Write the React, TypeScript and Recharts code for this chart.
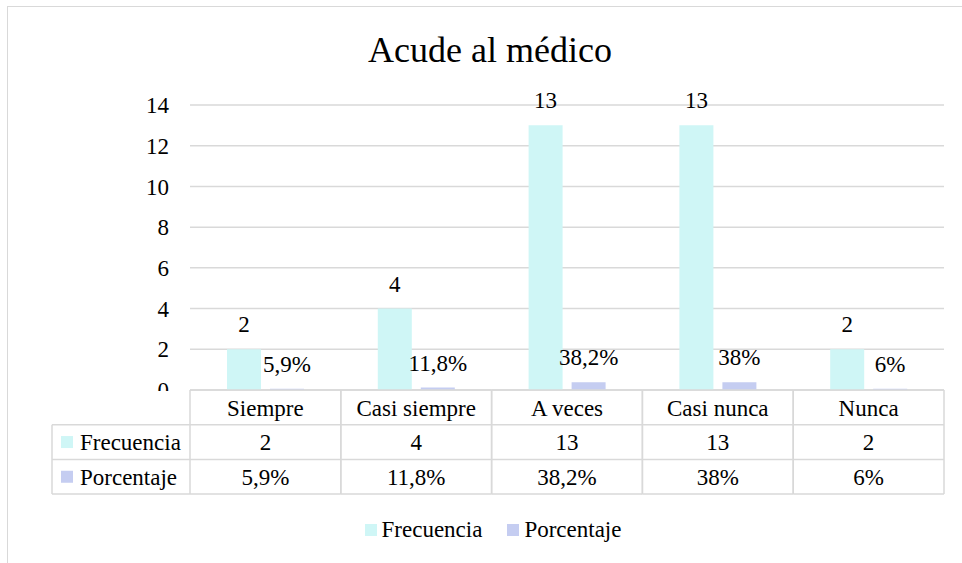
import React from 'react';
import { BarChart, Bar, XAxis, YAxis, CartesianGrid, LabelList, Legend } from 'recharts';

const categories = ['Siempre', 'Casi siempre', 'A veces', 'Casi nunca', 'Nunca'];
const frecuencia = [2, 4, 13, 13, 2];
const porcentaje = [0.059, 0.118, 0.382, 0.38, 0.06];
const frecuenciaLabels = ['2', '4', '13', '13', '2'];
const porcentajeLabels = ['5,9%', '11,8%', '38,2%', '38%', '6%'];
const yTicks = [0, 2, 4, 6, 8, 10, 12, 14];
const seriesNames = ['Frecuencia', 'Porcentaje'];
const seriesColors = ['#CFF6F6', '#C5CDF1'];
const title = 'Acude al médico';

const data = categories.map((c, i) => ({
  name: c,
  frecuencia: frecuencia[i],
  porcentaje: porcentaje[i],
  fLabel: frecuenciaLabels[i],
  pLabel: porcentajeLabels[i],
}));

const FONT = '"Liberation Serif", "Times New Roman", serif';
const W = 962;
const H = 563;
const MARGIN = { top: 105, right: 18, bottom: 0, left: 0 };
const Y_AXIS_W = 190;
const X_AXIS_H = 173;
const CELL_W = (W - MARGIN.right - MARGIN.left - Y_AXIS_W) / categories.length;
const ROW_H = 34.7;
const LABEL_COL_W = 138;
const LINE = '#D9D9D9';
const LW = 1.5;
const FS = 23;

const textStyle: React.CSSProperties = { fontFamily: FONT, fontSize: FS };

const TableTick = (props: any) => {
  const { x, y, payload, index } = props;
  const left = x - CELL_W / 2;
  const right = x + CELL_W / 2;
  const i = index as number;
  const rowCenter = (r: number) => y + ROW_H * r + ROW_H / 2;
  const els: React.ReactNode[] = [];
  for (let r = 0; r <= 3; r++) {
    els.push(<line key={'h' + r} x1={left} x2={right} y1={y + ROW_H * r} y2={y + ROW_H * r} stroke={LINE} strokeWidth={LW} />);
  }
  els.push(<line key="vl" x1={left} x2={left} y1={y} y2={y + ROW_H * 3} stroke={LINE} strokeWidth={LW} />);
  els.push(<line key="vr" x1={right} x2={right} y1={y} y2={y + ROW_H * 3} stroke={LINE} strokeWidth={LW} />);
  const tx = (k: string, ty: number, s: string) => (
    <text key={k} x={x} y={ty} dy="0.355em" textAnchor="middle" style={textStyle} fill="#000">{s}</text>
  );
  els.push(tx('c', rowCenter(0), payload.value));
  els.push(tx('f', rowCenter(1), frecuenciaLabels[i]));
  els.push(tx('p', rowCenter(2), porcentajeLabels[i]));
  if (i === 0) {
    const l0 = left - LABEL_COL_W;
    for (let r = 1; r <= 3; r++) {
      els.push(<line key={'lh' + r} x1={l0} x2={left} y1={y + ROW_H * r} y2={y + ROW_H * r} stroke={LINE} strokeWidth={LW} />);
    }
    els.push(<line key="lv" x1={l0} x2={l0} y1={y + ROW_H} y2={y + ROW_H * 3} stroke={LINE} strokeWidth={LW} />);
    seriesNames.forEach((n, k) => {
      const cy = rowCenter(k + 1);
      els.push(<rect key={'m' + k} x={l0 + 9} y={cy - 6} width={12} height={12} fill={seriesColors[k]} />);
      els.push(<text key={'t' + k} x={l0 + 28} y={cy} dy="0.355em" textAnchor="start" style={textStyle} fill="#000">{n}</text>);
    });
  }
  return <g>{els}</g>;
};

const YTick = (props: any) => {
  const { x, y, payload } = props;
  const clip = payload.value === 0;
  return (
    <g>
      {clip && (
        <defs>
          <clipPath id="zeroClip">
            <rect x={x - 60} y={y - 30} width={62} height={31} />
          </clipPath>
        </defs>
      )}
      <text x={x} y={y} dy="0.355em" textAnchor="end" style={textStyle} fill="#000" clipPath={clip ? 'url(#zeroClip)' : undefined}>
        {payload.value}
      </text>
    </g>
  );
};

const LegendContent = () => (
  <div style={{ display: 'flex', justifyContent: 'center', alignItems: 'center', paddingLeft: 24, height: 30, fontFamily: FONT, fontSize: FS, color: '#000' }}>
    {seriesNames.map((n, k) => (
      <div key={n} style={{ display: 'flex', alignItems: 'center', marginRight: k === 0 ? 25 : 0 }}>
        <span style={{ display: 'inline-block', width: 12, height: 12, background: seriesColors[k], marginRight: 5 }} />
        <span style={{ lineHeight: '30px', fontFamily: FONT }}>{n}</span>
      </div>
    ))}
  </div>
);

export default function App() {
  return (
    <div style={{ position: 'absolute', left: 0, top: 0, width: W, height: H, overflow: 'hidden', background: '#fff', fontFamily: FONT }}>
      <div style={{ position: 'absolute', left: 7, top: 6, width: 2000, height: 2000, borderTop: `1.5px solid ${LINE}`, borderLeft: `1.5px solid ${LINE}` }} />
      <div style={{ position: 'absolute', left: 8, top: 31.5, width: 964, textAlign: 'center', fontSize: 36, lineHeight: '36px', color: '#000', fontFamily: FONT, whiteSpace: 'nowrap' }}>
        {title}
      </div>
      <div style={{ position: 'absolute', left: 0, top: 0, fontFamily: FONT }}>
        <BarChart width={W} height={H} data={data} margin={MARGIN} barGap={9} style={{ fontFamily: FONT }}>
          <CartesianGrid vertical={false} stroke={LINE} strokeWidth={LW} />
          <XAxis dataKey="name" height={X_AXIS_H} axisLine={false} tickLine={false} tickSize={0} tickMargin={0} interval={0} tick={(p: any) => <TableTick {...p} />} />
          <YAxis width={Y_AXIS_W} domain={[0, 14]} ticks={yTicks} axisLine={false} tickLine={false} tickSize={0} tickMargin={21} tick={(p: any) => <YTick {...p} />} />
          <Bar dataKey="frecuencia" name={seriesNames[0]} fill={seriesColors[0]} barSize={34} isAnimationActive={false}>
            <LabelList dataKey="fLabel" position="top" offset={17} fill="#000" style={textStyle} />
          </Bar>
          <Bar dataKey="porcentaje" name={seriesNames[1]} fill={seriesColors[1]} barSize={34} isAnimationActive={false}>
            <LabelList dataKey="pLabel" position="top" offset={17} fill="#000" style={textStyle} />
          </Bar>
          <Legend layout="horizontal" verticalAlign="middle" align="center" wrapperStyle={{ top: 515, left: 0, width: W, height: 30 }} content={() => <LegendContent />} />
        </BarChart>
      </div>
    </div>
  );
}
